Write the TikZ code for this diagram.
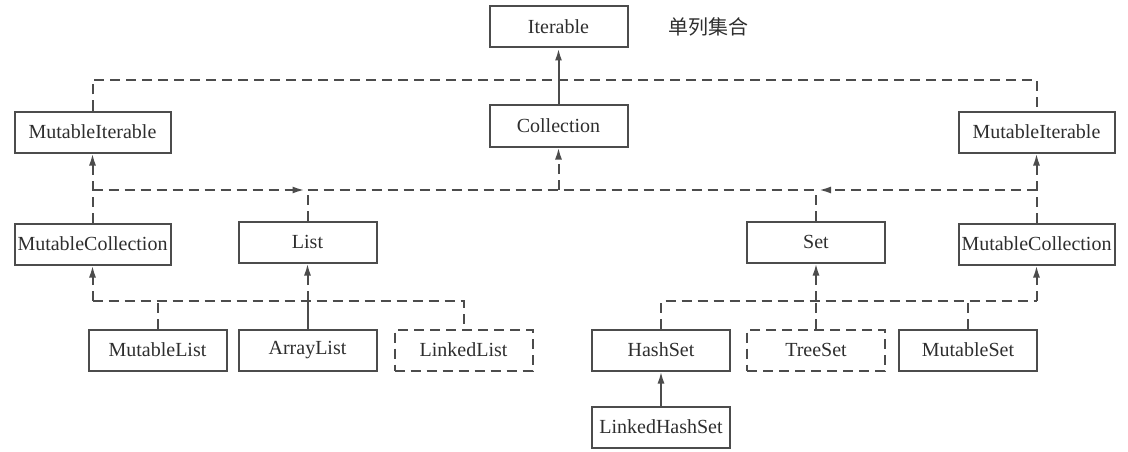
\documentclass[tikz,border=0pt]{standalone}
\usepackage{fontspec}
\setmainfont{Liberation Serif}
\newfontfamily\cjk{Noto Sans CJK SC}
\usepackage{tikz}
\usetikzlibrary{positioning, arrows.meta}
\definecolor{linegray}{rgb}{0.3,0.3,0.3}
\definecolor{textgray}{rgb}{0.18,0.18,0.18}
\tikzstyle{cls}=[%
      rectangle, draw=linegray, line width=2pt, fill=none, text=textgray,
      font=\fontsize{20}{24}\selectfont, minimum height=41pt, minimum width=138pt, inner sep=0pt
]
\tikzstyle{wide}=[cls, minimum width=156pt]
\tikzstyle{dcls}=[cls, dash pattern=on 10pt off 6pt]
\tikzstyle{dep}=[draw=linegray, line width=2pt, dash pattern=on 10pt off 6pt]
\tikzstyle{imp}=[draw=linegray, line width=2pt]

\begin{document}
\begin{tikzpicture}[x=1pt, y=-1pt,
    >={Latex[length=12pt,width=7pt]}
  ]
    \useasboundingbox (0,0) rectangle (1128,452);

    \node[cls]  (iter)                        at (558.5,27)  {Iterable};
    \node[font=\cjk\fontsize{20}{24}\selectfont, text=textgray, inner sep=0pt]
                (title) [right = 40pt of iter]                {单列集合};
    \node[cls]  (coll)  [below = 56pt of iter]                {Collection};
    \node[wide] (mitL)                        at (92.5,132)  {MutableIterable};
    \node[wide] (mitR)                        at (1036.5,132) {MutableIterable};
    \node[wide] (mcolL) [below = 69pt of mitL]                {MutableCollection};
    \node[wide] (mcolR) [below = 69pt of mitR]                {MutableCollection};
    \node[cls]  (list)                        at (307.5,242) {List};
    \node[cls]  (set)                         at (816,242)   {Set};
    \node[cls]  (alist) [below = 65pt of list]                {ArrayList};
    \node[cls]  (mlist) [left = 10pt of alist]                {MutableList};
    \node[dcls] (llist) [right = 16pt of alist]               {LinkedList};
    \node[dcls] (tset)  [below = 65pt of set]                 {TreeSet};
    \node[cls]  (hset)  [left = 15pt of tset]                 {HashSet};
    \node[cls]  (mset)  [right = 12pt of tset]                {MutableSet};
    \node[cls]  (lhset) [below = 34pt of hset]                {LinkedHashSet};

    \coordinate (busA) at (0,80);
    \coordinate (busB) at (0,190);
    \coordinate (busC) at (0,301);

    % top level
    \draw[dep] (mitL) -- (mitL.north |- busA) -- (mitR.north |- busA) -- (mitR);
    \draw[imp, ->] (coll) -- (iter);

    % second bus
    \draw[dep, ->] (mcolL) -- (mitL);
    \draw[dep, ->] (mcolR) -- (mitR);
    \draw[dep, ->, shorten >=3pt] (mitL.south |- busB) -- (list.north |- busB);
    \draw[dep, ->, shorten >=3pt] (mitR.south |- busB) -- (set.north |- busB);
    \draw[dep] (list.north |- busB) -- (set.north |- busB);
    \draw[dep] (list) -- (list.north |- busB);
    \draw[dep] (set) -- (set.north |- busB);
    \draw[dep, ->] (coll.south |- busB) -- (coll);

    % lists
    \draw[dep] (mcolL.south |- busC) -- (llist.north |- busC) -- (llist);
    \draw[dep, ->] (mcolL.south |- busC) -- (mcolL);
    \draw[dep] (mlist) -- (mlist.north |- busC);
    \draw[imp] (alist) -- (alist.north |- busC);
    \draw[dep, ->] (alist.north |- busC) -- (list);

    % sets
    \draw[dep] (hset) -- (hset.north |- busC) -- (mcolR.south |- busC);
    \draw[dep, ->] (mcolR.south |- busC) -- (mcolR);
    \draw[dep] (tset) -- (tset.north |- busC);
    \draw[dep, ->] (set.south |- busC) -- (set);
    \draw[dep] (mset) -- (mset.north |- busC);
    \draw[imp, ->] (lhset) -- (hset);
\end{tikzpicture}
\end{document}
